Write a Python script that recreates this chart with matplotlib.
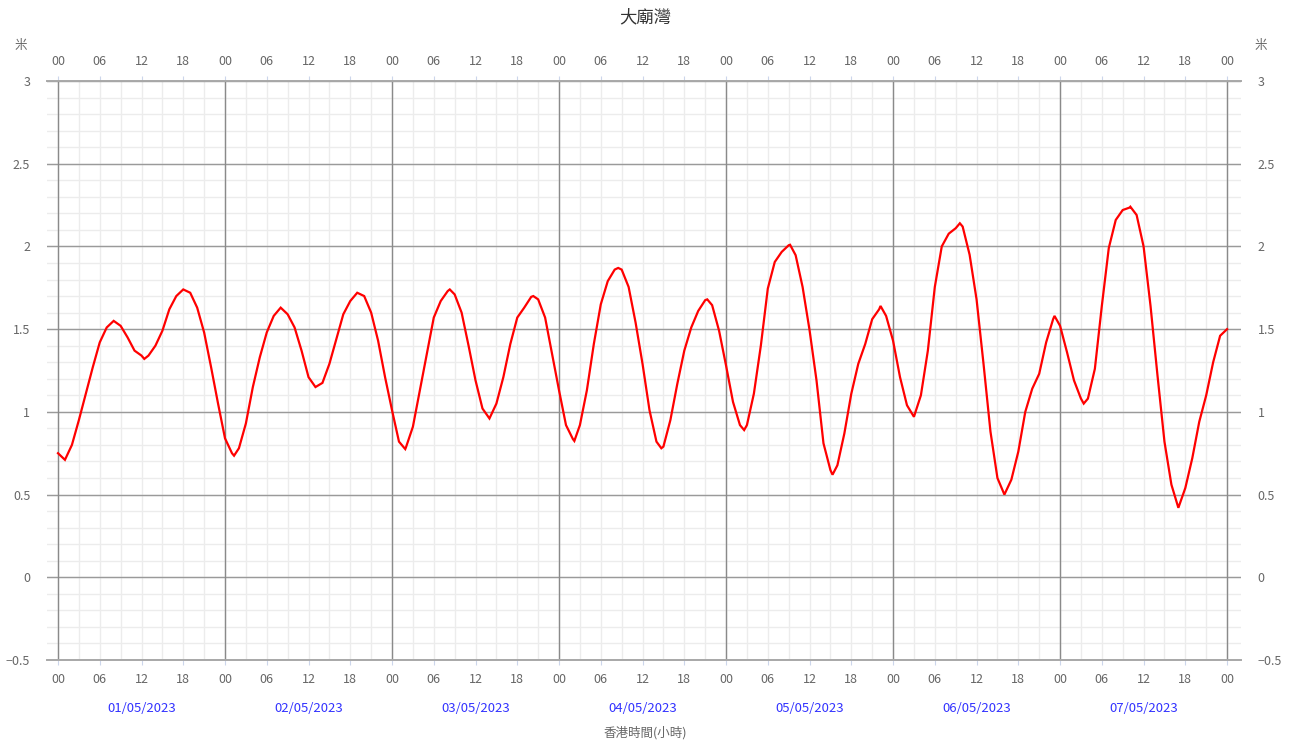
import numpy as np
import matplotlib
matplotlib.use("Agg")
import matplotlib.pyplot as plt
from matplotlib.ticker import FixedLocator, FuncFormatter

plt.rcParams['font.family'] = ['Noto Sans CJK TC', 'DejaVu Sans']

# hours since 01/05/2023 00:00 and predicted tide height (m)
hours = [0, 1, 2, 3, 4, 5, 6, 7, 8, 9, 10, 11, 12, 12.4, 13, 14, 15, 16, 17, 18,
         19, 20, 21, 22, 23, 24, 25, 25.3, 26, 27, 28, 29, 30, 31, 32, 33, 34, 35,
         36, 37, 38, 39, 40, 41, 42, 43, 44, 45, 46, 47, 48, 49, 49.9, 50, 51, 52,
         53, 54, 55, 56, 56.3, 57, 58, 59, 60, 61, 62, 63, 64, 65, 66, 67, 68, 68.3,
         69, 70, 71, 72, 73, 74, 74.2, 75, 76, 77, 78, 79, 80, 80.5, 81, 82, 83, 84,
         85, 86, 86.7, 87, 88, 89, 90, 91, 92, 93, 93.3, 94, 95, 96, 97, 98, 98.6,
         99, 100, 101, 102, 103, 104, 105, 105.2, 106, 107, 108, 109, 110, 111,
         111.3, 112, 113, 114, 115, 116, 117, 118, 118.2, 119, 120, 121, 122, 123,
         124, 125, 126, 127, 128, 129, 129.6, 130, 131, 132, 133, 134, 135, 136,
         137, 138, 139, 140, 141, 142, 143, 143.2, 144, 145, 146, 147, 147.4, 148,
         149, 150, 151, 152, 153, 154, 154.1, 155, 156, 157, 158, 159, 160, 161,
         162, 163, 164, 165, 166, 167, 168]
heights = [0.75, 0.71, 0.80, 0.95, 1.11, 1.27, 1.42, 1.51, 1.55, 1.52, 1.45, 1.37,
           1.34, 1.32, 1.34, 1.40, 1.49, 1.62, 1.70, 1.74, 1.72, 1.63, 1.48, 1.27,
           1.05, 0.84, 0.75, 0.735, 0.78, 0.93, 1.15, 1.33, 1.48, 1.58, 1.63, 1.59,
           1.51, 1.37, 1.21, 1.15, 1.175, 1.29, 1.44, 1.59, 1.67, 1.72, 1.70, 1.60,
           1.43, 1.21, 1.01, 0.82, 0.775, 0.785, 0.91, 1.13, 1.35, 1.57, 1.67, 1.73,
           1.74, 1.71, 1.60, 1.40, 1.19, 1.02, 0.96, 1.05, 1.21, 1.41, 1.57, 1.63,
           1.695, 1.70, 1.68, 1.57, 1.35, 1.13, 0.92, 0.835, 0.824, 0.92, 1.13, 1.41,
           1.65, 1.79, 1.86, 1.87, 1.86, 1.755, 1.54, 1.29, 1.01, 0.82, 0.78, 0.79,
           0.95, 1.17, 1.37, 1.51, 1.61, 1.675, 1.68, 1.645, 1.49, 1.28, 1.06, 0.92,
           0.89, 0.92, 1.11, 1.40, 1.745, 1.906, 1.967, 2.007, 2.01, 1.947, 1.755,
           1.494, 1.19, 0.81, 0.648, 0.62, 0.677, 0.869, 1.11, 1.29, 1.41, 1.56,
           1.62, 1.64, 1.58, 1.43, 1.21, 1.04, 0.97, 1.10, 1.37, 1.755, 2.00, 2.077,
           2.11, 2.14, 2.12, 1.95, 1.68, 1.29, 0.88, 0.60, 0.50, 0.59, 0.76, 1.00,
           1.14, 1.23, 1.42, 1.56, 1.58, 1.52, 1.36, 1.19, 1.08, 1.05, 1.08, 1.26,
           1.64, 1.99, 2.16, 2.22, 2.235, 2.24, 2.19, 2.00, 1.64, 1.22, 0.82, 0.56,
           0.42, 0.54, 0.72, 0.94, 1.10, 1.30, 1.46, 1.50]
dates = ['01/05/2023', '02/05/2023', '03/05/2023', '04/05/2023',
         '05/05/2023', '06/05/2023', '07/05/2023']
hour_ticks = list(range(0, 169, 6))
hour_labels = ['%02d' % (h % 24) for h in hour_ticks]
y_ticks = [-0.5, 0, 0.5, 1, 1.5, 2, 2.5, 3]

W, H = 1292, 745
fig = plt.figure(figsize=(W / 100, H / 100), dpi=100)
ax = fig.add_axes([47 / W, 1 - 660 / H, (1241 - 47) / W, (660 - 81) / H])

ax.set_xlim(-1.58, 170.0)
ax.set_ylim(-0.5, 3)

# grid
for x in np.arange(0, 169, 3):
    ax.axvline(x, color='#ececec', lw=1, zorder=0)
for y in np.arange(-0.5, 3.0, 0.1):
    ax.axhline(y, color='#ececec', lw=1, zorder=0)
for y in y_ticks:
    ax.axhline(y, color='#9a9a9a', lw=1, zorder=1)
for x in range(0, 169, 24):
    ax.axvline(x, color='#8a8a8a', lw=1, zorder=1)

ax.plot(hours, heights, color='#ff0000', lw=1.6, zorder=3, solid_joinstyle='miter')

for s in ['left', 'right']:
    ax.spines[s].set_visible(False)
for s in ['top', 'bottom']:
    ax.spines[s].set_color('#a8a8a8')
    ax.spines[s].set_linewidth(1.4)

ax.xaxis.set_major_locator(FixedLocator(hour_ticks))
ax.set_xticklabels(hour_labels)
ax.tick_params(axis='x', which='major', direction='out', length=3.6, width=0.8,
               color='#ccd6eb', labelsize=9, labelcolor='#666666',
               top=True, labeltop=True, pad=5.5)
ax.yaxis.set_major_locator(FixedLocator(y_ticks))
ax.yaxis.set_major_formatter(FuncFormatter(lambda v, p: ('%g' % v).replace('-', '\u2212')))
ax.tick_params(axis='y', length=0, labelsize=9, labelcolor='#666666',
               left=False, right=False, labelleft=True, labelright=True, pad=12)

for i, d in enumerate(dates):
    ax.text(24 * i + 12, -(708 - 660) / (660 - 81), d, transform=ax.get_xaxis_transform(),
            ha='center', va='center', fontsize=9.5, color='#3333ff')

fig.text(645 / W, 1 - 17 / H, '大廟灣', ha='center', va='center', fontsize=12.5, color='#333333')
fig.text(645 / W, 1 - 733 / H, '香港時間(小時)', ha='center', va='center', fontsize=9, color='#666666')
fig.text(21 / W, 1 - 45 / H, '米', ha='center', va='center', fontsize=9, color='#666666')
fig.text(1261 / W, 1 - 45 / H, '米', ha='center', va='center', fontsize=9, color='#666666')

fig.savefig('out.png', dpi=100, facecolor='white')
